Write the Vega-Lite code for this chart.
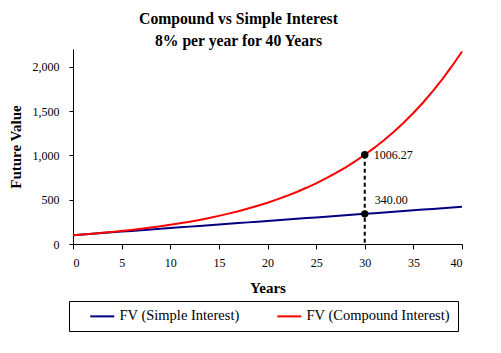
{
  "$schema": "https://vega.github.io/schema/vega-lite/v6.json",
  "width": 389,
  "height": 195,
  "autosize": "none",
  "padding": {"left": 73, "top": 49, "right": 39, "bottom": 109},
  "background": "white",
  "config": {
    "view": {"stroke": null},
    "font": "'Liberation Serif', 'Times New Roman', serif",
    "axis": {
      "grid": false,
      "domainColor": "black",
      "tickColor": "black",
      "labelColor": "black",
      "titleColor": "black",
      "labelFont": "'Liberation Serif', 'Times New Roman', serif",
      "labelFontSize": 12,
      "titleFont": "'Liberation Serif', 'Times New Roman', serif",
      "titleFontSize": 15,
      "titleFontWeight": "bold"
    }
  },
  "title": {
    "text": ["Compound vs Simple Interest", "8% per year for 40 Years"],
    "font": "'Liberation Serif', 'Times New Roman', serif",
    "fontSize": 15.7,
    "fontWeight": "bold",
    "color": "black",
    "lineHeight": 22,
    "anchor": "middle",
    "dx": -29,
    "offset": -2
  },
  "datasets": {
    "fv": [
      {"year": 0, "series": "FV (Simple Interest)", "value": 100},
      {"year": 1, "series": "FV (Simple Interest)", "value": 108},
      {"year": 2, "series": "FV (Simple Interest)", "value": 116},
      {"year": 3, "series": "FV (Simple Interest)", "value": 124},
      {"year": 4, "series": "FV (Simple Interest)", "value": 132},
      {"year": 5, "series": "FV (Simple Interest)", "value": 140},
      {"year": 6, "series": "FV (Simple Interest)", "value": 148},
      {"year": 7, "series": "FV (Simple Interest)", "value": 156},
      {"year": 8, "series": "FV (Simple Interest)", "value": 164},
      {"year": 9, "series": "FV (Simple Interest)", "value": 172},
      {"year": 10, "series": "FV (Simple Interest)", "value": 180},
      {"year": 11, "series": "FV (Simple Interest)", "value": 188},
      {"year": 12, "series": "FV (Simple Interest)", "value": 196},
      {"year": 13, "series": "FV (Simple Interest)", "value": 204},
      {"year": 14, "series": "FV (Simple Interest)", "value": 212},
      {"year": 15, "series": "FV (Simple Interest)", "value": 220},
      {"year": 16, "series": "FV (Simple Interest)", "value": 228},
      {"year": 17, "series": "FV (Simple Interest)", "value": 236},
      {"year": 18, "series": "FV (Simple Interest)", "value": 244},
      {"year": 19, "series": "FV (Simple Interest)", "value": 252},
      {"year": 20, "series": "FV (Simple Interest)", "value": 260},
      {"year": 21, "series": "FV (Simple Interest)", "value": 268},
      {"year": 22, "series": "FV (Simple Interest)", "value": 276},
      {"year": 23, "series": "FV (Simple Interest)", "value": 284},
      {"year": 24, "series": "FV (Simple Interest)", "value": 292},
      {"year": 25, "series": "FV (Simple Interest)", "value": 300},
      {"year": 26, "series": "FV (Simple Interest)", "value": 308},
      {"year": 27, "series": "FV (Simple Interest)", "value": 316},
      {"year": 28, "series": "FV (Simple Interest)", "value": 324},
      {"year": 29, "series": "FV (Simple Interest)", "value": 332},
      {"year": 30, "series": "FV (Simple Interest)", "value": 340},
      {"year": 31, "series": "FV (Simple Interest)", "value": 348},
      {"year": 32, "series": "FV (Simple Interest)", "value": 356},
      {"year": 33, "series": "FV (Simple Interest)", "value": 364},
      {"year": 34, "series": "FV (Simple Interest)", "value": 372},
      {"year": 35, "series": "FV (Simple Interest)", "value": 380},
      {"year": 36, "series": "FV (Simple Interest)", "value": 388},
      {"year": 37, "series": "FV (Simple Interest)", "value": 396},
      {"year": 38, "series": "FV (Simple Interest)", "value": 404},
      {"year": 39, "series": "FV (Simple Interest)", "value": 412},
      {"year": 40, "series": "FV (Simple Interest)", "value": 420},
      {"year": 0, "series": "FV (Compound Interest)", "value": 100},
      {"year": 1, "series": "FV (Compound Interest)", "value": 108},
      {"year": 2, "series": "FV (Compound Interest)", "value": 116.64},
      {"year": 3, "series": "FV (Compound Interest)", "value": 125.97},
      {"year": 4, "series": "FV (Compound Interest)", "value": 136.05},
      {"year": 5, "series": "FV (Compound Interest)", "value": 146.93},
      {"year": 6, "series": "FV (Compound Interest)", "value": 158.69},
      {"year": 7, "series": "FV (Compound Interest)", "value": 171.38},
      {"year": 8, "series": "FV (Compound Interest)", "value": 185.09},
      {"year": 9, "series": "FV (Compound Interest)", "value": 199.9},
      {"year": 10, "series": "FV (Compound Interest)", "value": 215.89},
      {"year": 11, "series": "FV (Compound Interest)", "value": 233.16},
      {"year": 12, "series": "FV (Compound Interest)", "value": 251.82},
      {"year": 13, "series": "FV (Compound Interest)", "value": 271.96},
      {"year": 14, "series": "FV (Compound Interest)", "value": 293.72},
      {"year": 15, "series": "FV (Compound Interest)", "value": 317.22},
      {"year": 16, "series": "FV (Compound Interest)", "value": 342.59},
      {"year": 17, "series": "FV (Compound Interest)", "value": 370.0},
      {"year": 18, "series": "FV (Compound Interest)", "value": 399.6},
      {"year": 19, "series": "FV (Compound Interest)", "value": 431.57},
      {"year": 20, "series": "FV (Compound Interest)", "value": 466.1},
      {"year": 21, "series": "FV (Compound Interest)", "value": 503.38},
      {"year": 22, "series": "FV (Compound Interest)", "value": 543.65},
      {"year": 23, "series": "FV (Compound Interest)", "value": 587.15},
      {"year": 24, "series": "FV (Compound Interest)", "value": 634.12},
      {"year": 25, "series": "FV (Compound Interest)", "value": 684.85},
      {"year": 26, "series": "FV (Compound Interest)", "value": 739.63},
      {"year": 27, "series": "FV (Compound Interest)", "value": 798.8},
      {"year": 28, "series": "FV (Compound Interest)", "value": 862.71},
      {"year": 29, "series": "FV (Compound Interest)", "value": 931.73},
      {"year": 30, "series": "FV (Compound Interest)", "value": 1006.27},
      {"year": 31, "series": "FV (Compound Interest)", "value": 1086.77},
      {"year": 32, "series": "FV (Compound Interest)", "value": 1173.71},
      {"year": 33, "series": "FV (Compound Interest)", "value": 1267.6},
      {"year": 34, "series": "FV (Compound Interest)", "value": 1369.01},
      {"year": 35, "series": "FV (Compound Interest)", "value": 1478.53},
      {"year": 36, "series": "FV (Compound Interest)", "value": 1596.82},
      {"year": 37, "series": "FV (Compound Interest)", "value": 1724.56},
      {"year": 38, "series": "FV (Compound Interest)", "value": 1862.52},
      {"year": 39, "series": "FV (Compound Interest)", "value": 2011.53},
      {"year": 40, "series": "FV (Compound Interest)", "value": 2172.45}
    ],
    "ann": [
      {"year": 30, "value": 1006.27, "label": "1006.27"},
      {"year": 30, "value": 340, "label": "340.00"}
    ]
  },
  "layer": [
    {
      "data": {"name": "fv"},
      "mark": {"type": "line", "strokeWidth": 2},
      "encoding": {
        "x": {
          "field": "year", "type": "quantitative",
          "scale": {"domain": [0, 40], "nice": false},
          "axis": {"title": "Years", "values": [0, 5, 10, 15, 20, 25, 30, 35, 40], "tickSize": 5, "labelPadding": 8, "titlePadding": 12}
        },
        "y": {
          "field": "value", "type": "quantitative",
          "scale": {"domain": [0, 2200], "nice": false},
          "axis": {"title": "Future Value", "values": [0, 500, 1000, 1500, 2000], "format": ",d", "tickSize": 4, "labelPadding": 10, "titlePadding": 9}
        },
        "color": {
          "field": "series", "type": "nominal",
          "scale": {"domain": ["FV (Simple Interest)", "FV (Compound Interest)"], "range": ["#000080", "#ff0000"]},
          "legend": {
            "title": null,
            "orient": "none",
            "legendX": -4,
            "legendY": 252,
            "direction": "horizontal",
            "columns": 2,
            "strokeColor": "black",
            "fillColor": "white",
            "padding": 8,
            "symbolType": "M-2,0H2",
            "symbolSize": 144,
            "symbolStrokeWidth": 2,
            "symbolOffset": 18,
            "labelFont": "'Liberation Serif', 'Times New Roman', serif",
            "labelFontSize": 14.5,
            "labelColor": "black",
            "labelOffset": 10,
            "columnPadding": 24,
            "labelLimit": 300
          }
        }
      }
    },
    {
      "data": {"name": "ann"},
      "transform": [{"filter": "datum.label == '1006.27'"}],
      "mark": {"type": "rule", "strokeDash": [4, 3], "strokeWidth": 2, "color": "black"},
      "encoding": {
        "x": {"field": "year", "type": "quantitative"},
        "y": {"field": "value", "type": "quantitative"},
        "y2": {"datum": 0}
      }
    },
    {
      "data": {"name": "ann"},
      "mark": {"type": "point", "filled": true, "color": "black", "size": 55, "opacity": 1},
      "encoding": {
        "x": {"field": "year", "type": "quantitative"},
        "y": {"field": "value", "type": "quantitative"}
      }
    },
    {
      "data": {"name": "ann"},
      "transform": [{"filter": "datum.label == '1006.27'"}],
      "mark": {"type": "text", "align": "left", "baseline": "middle", "dx": 9, "font": "'Liberation Serif', 'Times New Roman', serif", "fontSize": 12, "color": "black"},
      "encoding": {
        "x": {"field": "year", "type": "quantitative"},
        "y": {"field": "value", "type": "quantitative"},
        "text": {"field": "label"}
      }
    },
    {
      "data": {"name": "ann"},
      "transform": [{"filter": "datum.label == '340.00'"}],
      "mark": {"type": "text", "align": "left", "baseline": "middle", "dx": 10, "dy": -14, "font": "'Liberation Serif', 'Times New Roman', serif", "fontSize": 12, "color": "black"},
      "encoding": {
        "x": {"field": "year", "type": "quantitative"},
        "y": {"field": "value", "type": "quantitative"},
        "text": {"field": "label"}
      }
    }
  ]
}
